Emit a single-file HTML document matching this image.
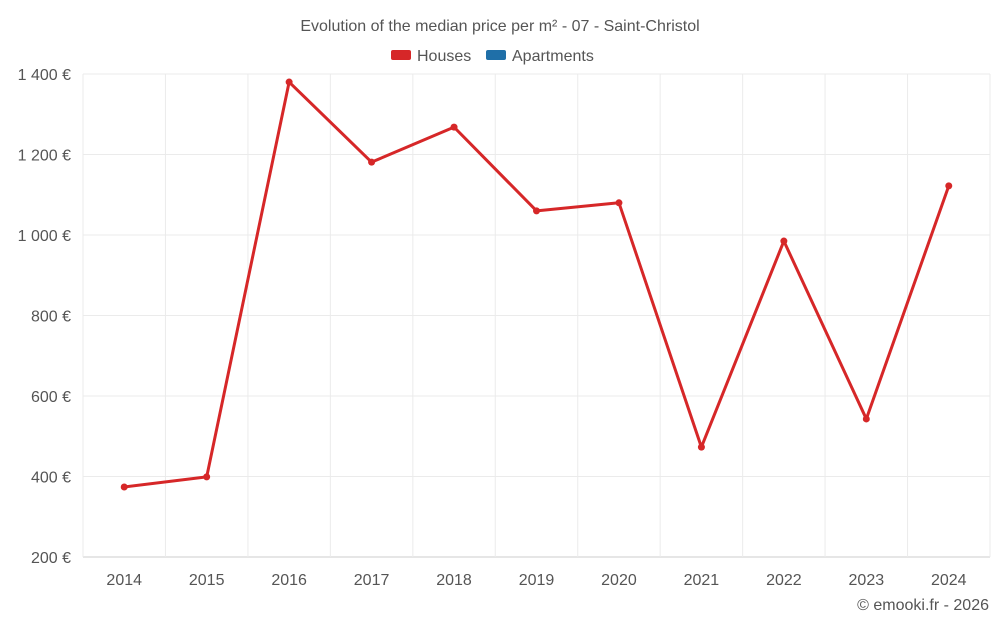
<!DOCTYPE html>
<html><head><meta charset="utf-8"><style>
body{margin:0;background:#fff;font-family:"Liberation Sans",sans-serif;}
svg text{font-family:"Liberation Sans",sans-serif;}
</style></head><body>
<svg id="chart" width="1000" height="625">
<text x="500" y="31" text-anchor="middle" font-size="16" fill="#555">Evolution of the median price per m² - 07 - Saint-Christol</text>
<g>
<g><rect x="391" y="50" width="20" height="10" rx="2" fill="#d62728"/><text x="417" y="61" font-size="16" fill="#555">Houses</text></g>
<g><rect x="486" y="50" width="20" height="10" rx="2" fill="#1f6fa8"/><text x="512" y="61" font-size="16" fill="#555">Apartments</text></g>
</g>
<g id="grid"></g><g id="axes"></g><g id="series"></g>
<text x="989" y="610" text-anchor="end" font-size="16" fill="#555">© emooki.fr - 2026</text>
</svg>
<script>
const categories=["2014","2015","2016","2017","2018","2019","2020","2021","2022","2023","2024"];
const houses=[374,399,1380,1181,1268,1060,1080,473,985,543,1122];
const yTicks=[200,400,600,800,1000,1200,1400];
const yTickLabels=["200 €","400 €","600 €","800 €","1 000 €","1 200 €","1 400 €"];
const NS="http://www.w3.org/2000/svg";
const L=83,R=990,T=74,B=557;
const bw=(R-L)/categories.length;
function x(i){return L+bw*(i+0.5);}
function y(v){return B-(v-200)/1200*(B-T);}
function mk(tag,attrs,parent){const e=document.createElementNS(NS,tag);for(const k in attrs)e.setAttribute(k,attrs[k]);parent.appendChild(e);return e;}
const grid=document.getElementById('grid'),axes=document.getElementById('axes'),ser=document.getElementById('series');
yTicks.forEach((v,i)=>{
 const g=mk('line',{x1:L,x2:R,y1:y(v),y2:y(v),stroke:i==0?'#ccc':'#ebebeb'},grid);
 
 
 const t=mk('text',{x:71,y:y(v)+6,'text-anchor':'end','font-size':16,fill:'#555'},axes);
 t.textContent=yTickLabels[i];
 
 
});
for(let i=0;i<=categories.length;i++){
 const g=mk('line',{x1:L+bw*i,x2:L+bw*i,y1:T,y2:B+(i>0?0:0),stroke:'#ebebeb'},grid);
 
 
}
categories.forEach((c,i)=>{
 const t=mk('text',{x:x(i),y:585,'text-anchor':'middle','font-size':16,fill:'#555'},axes);
 t.textContent=c;
 
 
});
const p=mk('polyline',{points:houses.map((v,i)=>x(i)+','+y(v)).join(' '),fill:'none',stroke:'#d62728','stroke-width':3,'stroke-linejoin':'round'},ser);


houses.forEach((v,i)=>{
 const c=mk('circle',{cx:x(i),cy:y(v),r:3.5,fill:'#d62728'},ser);
 
 
});
</script>
</body></html>
